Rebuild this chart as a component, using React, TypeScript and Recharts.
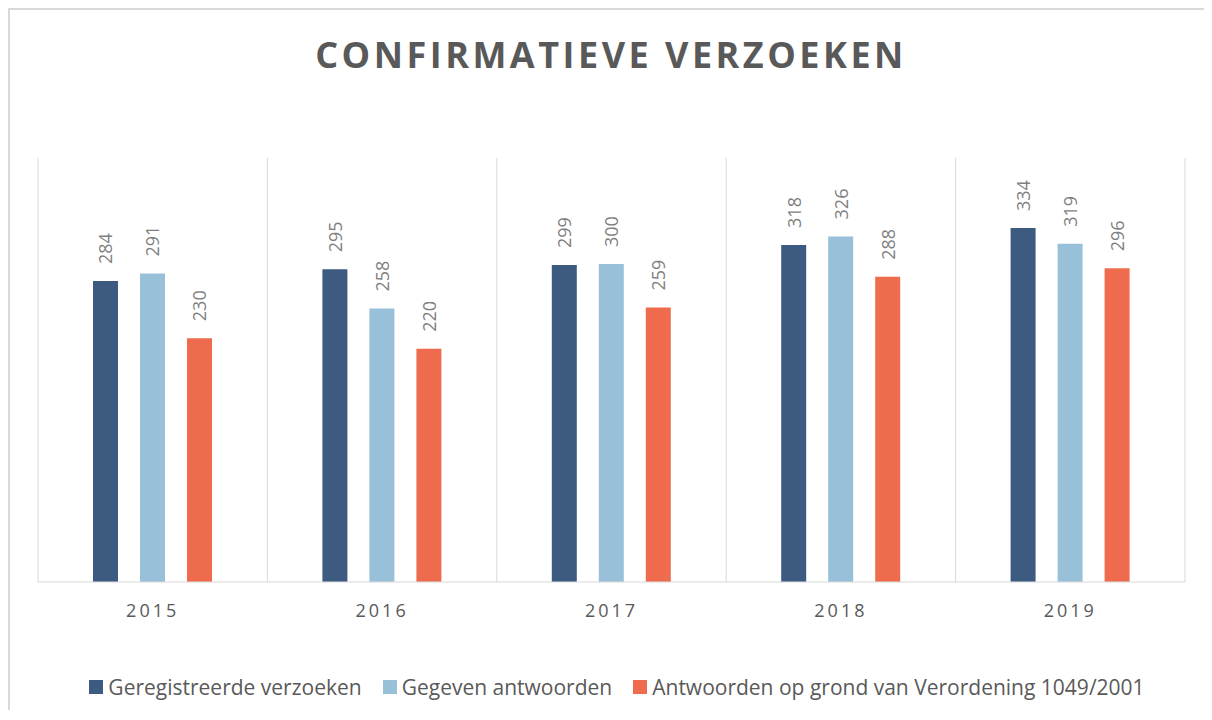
import React from 'react';
import { BarChart, Bar, XAxis, YAxis, CartesianGrid, Legend, LabelList } from 'recharts';

const years = ['2015', '2016', '2017', '2018', '2019'];
const geregistreerd = [284, 295, 299, 318, 334];
const gegeven = [291, 258, 300, 326, 319];
const verordening = [230, 220, 259, 288, 296];

const seriesNames = [
  'Geregistreerde verzoeken',
  'Gegeven antwoorden',
  'Antwoorden op grond van Verordening 1049/2001',
];
const colors = ['#3D5A80', '#98C1D9', '#EE6C4D'];

const data = years.map((year, i) => ({
  year,
  a: geregistreerd[i],
  b: gegeven[i],
  c: verordening[i],
}));

const W = 1194;
const H = 700;

function ValueLabel(props: any) {
  const { x, y, width, value } = props;
  const cx = x + width / 2;
  const ty = y - 17;
  return (
    <text
      x={cx}
      y={ty}
      transform={`rotate(-90, ${cx}, ${ty})`}
      textAnchor="start"
      dominantBaseline="central"
      fill="#7f7f7f"
      fontSize={18}
    >
      {value}
    </text>
  );
}

function YearTick(props: any) {
  const { x, y, payload } = props;
  return (
    <text
      x={x}
      y={y + 20}
      textAnchor="middle"
      dominantBaseline="central"
      fill="#595959"
      fontSize={18}
      letterSpacing={3}
    >
      {payload.value}
    </text>
  );
}

function LegendContent(props: any) {
  const items = [...(props.payload || [])].sort(
    (p: any, q: any) => seriesNames.indexOf(p.value) - seriesNames.indexOf(q.value)
  );
  return (
    <div
      style={{
        height: 30,
        display: 'flex',
        justifyContent: 'center',
        alignItems: 'center',
        paddingLeft: 20,
        boxSizing: 'border-box',
      }}
    >
      {items.map((it: any, i: number) => (
        <div key={i} style={{ display: 'flex', alignItems: 'center', marginLeft: i === 0 ? 0 : 21 }}>
          <span style={{ width: 14, height: 14, background: it.color, display: 'inline-block', marginRight: 5 }} />
          <span style={{ fontSize: 21, color: '#595959' }}>{it.value}</span>
        </div>
      ))}
    </div>
  );
}

export default function App() {
  return (
    <div
      style={{
        position: 'relative',
        width: 1210,
        height: H,
        borderTop: '2px solid #d9d9d9',
        borderLeft: '2px solid #d9d9d9',
        fontFamily: "'Open Sans', sans-serif",
        background: '#fff',
      }}
    >
      <style>{'html,body{overflow:hidden}'}</style>
      <div
        style={{
          position: 'absolute',
          top: 27,
          left: 0,
          width: W,
          textAlign: 'center',
          fontSize: 36,
          lineHeight: '36px',
          fontWeight: 700,
          letterSpacing: 3.5,
          color: '#595959',
          paddingLeft: 8,
          boxSizing: 'border-box',
        }}
      >
        CONFIRMATIEVE VERZOEKEN
      </div>
      <BarChart
        width={W}
        height={H}
        data={data}
        margin={{ top: 148, right: 19, bottom: 58, left: 28 }}
        barSize={25}
        barGap={22}
      >
        <CartesianGrid
          horizontal={false}
          stroke="#d9d9d9"
          verticalCoordinatesGenerator={({ offset }: any) =>
            years.map((_, i) => offset.left + (i * offset.width) / years.length).concat(offset.left + offset.width)
          }
        />
        <XAxis
          dataKey="year"
          axisLine={{ stroke: '#d9d9d9' }}
          tickLine={false}
          height={40}
          tick={<YearTick />}
        />
        <YAxis hide domain={[0, 400]} />
        <Legend content={<LegendContent />} wrapperStyle={{ bottom: 8, left: 0, width: W }} />
        <Bar dataKey="a" name={seriesNames[0]} fill={colors[0]} isAnimationActive={false}>
          <LabelList dataKey="a" content={<ValueLabel />} />
        </Bar>
        <Bar dataKey="b" name={seriesNames[1]} fill={colors[1]} isAnimationActive={false}>
          <LabelList dataKey="b" content={<ValueLabel />} />
        </Bar>
        <Bar dataKey="c" name={seriesNames[2]} fill={colors[2]} isAnimationActive={false}>
          <LabelList dataKey="c" content={<ValueLabel />} />
        </Bar>
      </BarChart>
    </div>
  );
}
